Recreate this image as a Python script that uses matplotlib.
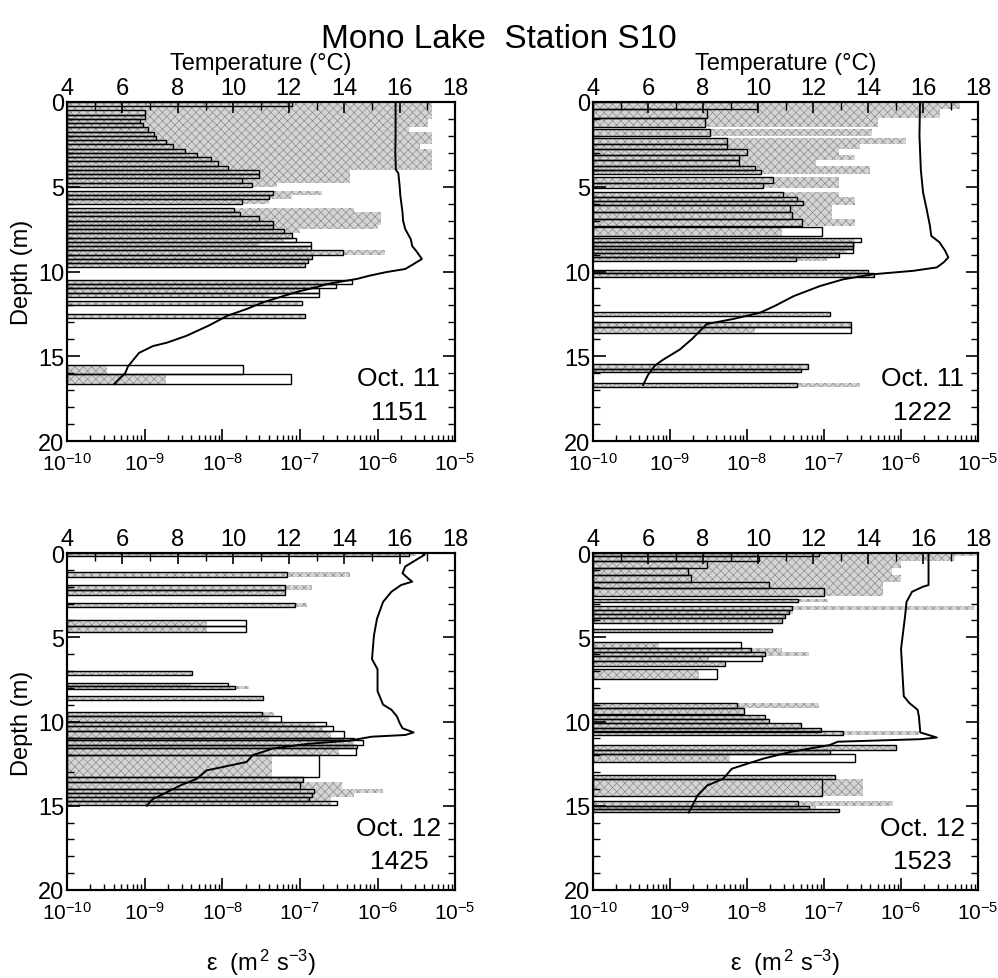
import numpy as np
import matplotlib
matplotlib.use("Agg")
import matplotlib.pyplot as plt
from matplotlib.ticker import FixedLocator, NullFormatter, FuncFormatter

plt.rcParams['font.family'] = ['Liberation Sans', 'DejaVu Sans']
plt.rcParams['mathtext.fontset'] = 'custom'
plt.rcParams['mathtext.rm'] = 'Liberation Sans'
plt.rcParams['mathtext.it'] = 'Liberation Sans'
plt.rcParams['mathtext.default'] = 'regular'
plt.rcParams['hatch.linewidth'] = 0.5

nan = np.nan

# ---- Oct. 11, 1151 ----
tl_depth = [0.0, 0.25, 0.5, 0.75, 1.0, 1.25, 1.5, 1.75, 2.0, 2.25, 2.5, 2.75, 3.0, 3.25, 3.5, 3.75,
            4.0, 4.25, 4.5, 4.75, 5.25, 5.5, 5.75, 6.25, 6.5, 6.75, 7.0, 7.25, 7.5, 7.75, 8.0, 8.25,
            8.5, 8.75, 9.0, 9.25, 9.5, 10.5, 10.75, 11.0, 11.25, 11.75, 12.5, 15.5, 16.05]
tl_thick = [0.25] * 43 + [0.55, 0.6]
tl_outline = [-7.1, nan, -9.0, -9.0, -9.06, -9.02, -8.95, -8.88, -8.85, -8.72, -8.63, -8.48, -8.33, -8.15, -8.06, -7.93,
              -7.53, -7.53, -7.75, -7.62, -7.34, -7.4, -7.75, -7.85, -7.77, -7.53, -7.34, -7.34, -7.21, -7.1, -7.05, -6.86,
              -6.86, -6.44, -6.84, -6.9, -6.93, -6.33, -6.53, -6.76, -6.76, -6.97, -6.93, -7.73, -7.11]
tl_gray = [-5.3, -5.3, -5.3, -5.3, -5.35, -5.35, -5.6, -5.3, -5.3, -5.3, -5.45, -5.3, -5.3, -5.3, -5.3, -5.3,
           -6.35, -6.35, -6.35, -7.3, -6.71, -7.1, -7.4, -6.3, -5.96, -5.96, -5.96, -6.0, -7.0, -7.1, -7.2, -7.53,
           -6.9, -5.9, -6.84, -6.9, -6.93, -6.5, -6.8, -7.0, -7.4, -7.0, -6.93, -9.49, -8.72]
tl_tdepth = [0, 1, 2, 3, 4.0, 4.2, 5.0, 5.5, 6.5, 7.0, 7.5, 8.1, 8.5, 8.8, 9.26, 9.56, 9.85, 10.04, 10.25, 10.44,
             10.7, 11.0, 11.2, 11.5, 11.8, 12.2, 12.6, 13.2, 13.8, 14.2, 14.4, 14.8, 15.2, 15.6, 16.0, 16.3, 16.65]
tl_temp = [15.85, 15.85, 15.85, 15.84, 15.86, 15.95, 16.0, 16.02, 16.1, 16.12, 16.2, 16.4, 16.45, 16.6, 16.8, 16.5, 16.2, 15.5, 14.9, 14.45,
           13.5, 12.8, 12.3, 11.7, 11.1, 10.5, 9.8, 9.1, 8.3, 7.6, 7.1, 6.6, 6.4, 6.2, 6.1, 5.9, 5.7]

# ---- Oct. 11, 1222 ----
tr_depth = [0.0, 0.4, 0.95, 1.6, 2.15, 2.5, 2.8, 3.15, 3.45, 3.75, 4.0, 4.4, 4.75, 5.3, 5.6, 5.85, 6.1, 6.5, 6.9, 7.35,
            8.0, 8.25, 8.5, 8.7, 8.9, 9.15, 9.9, 10.1, 12.4, 13.0, 13.3, 15.45, 15.75, 16.6]
tr_thick = [0.4, 0.55, 0.55, 0.4, 0.35, 0.3, 0.35, 0.3, 0.3, 0.25, 0.25, 0.35, 0.35, 0.3, 0.25, 0.25, 0.4, 0.4, 0.4, 0.55,
            0.25, 0.25, 0.2, 0.2, 0.25, 0.25, 0.2, 0.2, 0.2, 0.3, 0.3, 0.3, 0.15, 0.2]
tr_outline = [-7.87, -8.52, -8.54, -8.48, -8.26, -8.26, -8.0, -8.1, -8.1, -7.9, -7.82, -7.66, -7.79, -7.53, -7.35, -7.27, -7.44, -7.42, -7.29, -7.02,
              -6.52, -6.63, -6.63, -6.63, -6.8, -7.36, -6.43, -6.35, -6.92, -6.65, -6.65, -7.21, -7.3, -7.35]
tr_gray = [-5.23, -5.5, -6.3, -6.38, -5.93, -6.53, -6.8, -6.6, -7.1, -6.4, -6.4, -6.8, -6.8, -6.8, -6.6, -6.6, -6.9, -6.9, -6.6, -7.55,
           -6.6, -6.6, -6.6, -6.7, -6.8, -6.96, -6.43, -6.35, -6.92, -6.65, -7.9, -7.2, -7.3, -6.53]
tr_tdepth = [0, 2, 4, 5.33, 6.31, 7.3, 7.9, 8.28, 8.77, 9.17, 9.46, 9.76, 9.96, 10.16, 10.46, 10.86, 11.45, 12.04, 12.43, 12.8,
             13.1, 13.4, 13.98, 14.6, 15.2, 15.55, 16.1, 16.7]
tr_temp = [15.89, 15.87, 15.92, 16.0, 16.13, 16.25, 16.3, 16.6, 16.8, 16.92, 16.75, 16.5, 15.64, 14.2, 13.1, 12.25, 11.3, 10.6, 10.07, 9.1,
           8.13, 7.95, 7.6, 7.16, 6.55, 6.25, 6.0, 5.82]

# ---- Oct. 12, 1425 ----
bl_depth = [0.0, 1.15, 1.9, 2.17, 2.97, 4.0, 4.33, 7.0, 7.7, 7.9, 8.5, 9.45, 9.7, 10.0, 10.27, 10.55, 10.95, 11.1, 11.4, 11.6,
            12.0, 13.3, 13.6, 14.0, 14.25, 14.5, 14.7]
bl_thick = [0.2, 0.3, 0.27, 0.3, 0.23, 0.33, 0.34, 0.24, 0.2, 0.2, 0.2, 0.25, 0.3, 0.27, 0.28, 0.4, 0.15, 0.3, 0.2, 0.4,
            1.3, 0.3, 0.4, 0.25, 0.25, 0.2, 0.25]
bl_outline = [-5.6, -7.17, -7.19, -7.19, -7.06, -7.7, -7.7, -8.39, -7.92, -7.83, -7.47, -7.49, -7.24, -6.66, -6.57, -6.43, -6.3, -6.19, -6.26, -6.28,
              -6.75, -6.96, -7.0, -6.82, -6.85, -6.88, -6.52]
bl_gray = [-5.5, -6.35, -6.84, -7.19, -6.91, -8.2, -8.2, -8.39, -8.4, -7.65, -7.47, -7.33, -7.4, -6.8, -6.7, -6.6, -6.4, -6.3, -6.3, -6.5,
           -7.36, -6.96, -6.46, -5.93, -6.3, -6.6, -6.6]
bl_tdepth = [0, 0.1, 0.4, 0.8, 1.2, 1.5, 1.7, 1.9, 2.3, 2.9, 3.9, 4.9, 6.3, 6.9, 8.2, 9.0, 9.3, 9.7, 10.1, 10.4,
             10.65, 10.8, 10.9, 11.14, 11.33, 11.6, 12.0, 12.4, 12.9, 13.4, 13.8, 14.2, 14.6, 15.0]
bl_temp = [16.8, 16.9, 16.6, 16.2, 16.1, 16.3, 16.45, 16.05, 15.7, 15.4, 15.18, 15.07, 15.0, 15.2, 15.2, 15.4, 15.7, 15.9, 16.0, 16.1,
           16.5, 16.2, 15.0, 14.16, 12.66, 11.43, 10.7, 10.48, 9.04, 8.68, 8.08, 7.6, 7.1, 6.88]

# ---- Oct. 12, 1523 ----
br_depth = [0.0, 0.15, 0.45, 0.9, 1.3, 1.74, 2.1, 2.7, 3.17, 3.36, 3.6, 3.88, 4.5, 5.3, 5.65, 5.9, 6.13, 6.4, 6.9, 8.9,
            9.2, 9.6, 9.85, 10.1, 10.4, 10.55, 11.4, 11.7, 11.9, 13.2, 13.4, 14.7, 15.0, 15.2]
br_thick = [0.15, 0.3, 0.45, 0.4, 0.4, 0.36, 0.43, 0.2, 0.19, 0.24, 0.28, 0.27, 0.2, 0.35, 0.25, 0.23, 0.27, 0.3, 0.6, 0.3,
            0.35, 0.25, 0.25, 0.3, 0.2, 0.25, 0.3, 0.2, 0.5, 0.2, 1.0, 0.3, 0.2, 0.2]
br_outline = [-7.07, -7.84, -8.52, -8.76, -8.73, -7.72, -7.0, -7.34, -7.42, -7.45, -7.51, -7.55, -7.67, -8.08, -7.95, -7.77, -7.8, -8.29, -8.39, -8.13,
              -8.04, -7.77, -7.72, -7.3, -7.04, -6.76, -6.06, -6.92, -6.6, -6.86, -7.03, -7.34, -7.19, -6.8]
br_gray = [-5.0, -5.3, -6.0, -6.12, -6.0, -6.23, -6.23, -6.95, -5.05, -7.4, -7.51, -7.55, -7.67, -9.14, -7.55, -7.19, -8.5, -8.29, -8.63, -7.07,
           -8.04, -7.77, -7.72, -7.3, -7.04, -5.77, -6.06, -6.92, -8.22, -6.86, -6.5, -6.1, -7.1, -6.8]
br_tdepth = [0, 1.9, 2.0, 2.3, 2.9, 3.7, 5.7, 8.5, 8.9, 9.3, 9.7, 10.65, 10.95, 11.05, 11.2, 11.4, 11.8, 12.2, 12.8, 13.4,
             13.8, 14.4, 15.4]
br_temp = [16.2, 16.2, 16.0, 15.6, 15.4, 15.35, 15.2, 15.3, 15.5, 15.8, 15.85, 15.9, 16.5, 15.9, 12.9, 12.6, 11.2, 10.2, 9.05, 8.73,
           8.15, 7.8, 7.48]

panel_dates = ["Oct. 11", "Oct. 11", "Oct. 12", "Oct. 12"]
panel_times = ["1151", "1222", "1425", "1523"]

EPS_MIN, EPS_MAX = 1e-10, 1e-5
FS = 17
FS_LOG = 15

decades = np.arange(-10, -4)
eps_major = 10.0 ** decades
eps_minor = np.array([m * 10.0 ** d for d in decades[:-1] for m in range(2, 10)])

fig = plt.figure(figsize=(9.98, 9.79), dpi=100)
positions = [
    [0.0671, 0.5485, 0.389, 0.3463],
    [0.5942, 0.5485, 0.3858, 0.3463],
    [0.0671, 0.0899, 0.389, 0.3442],
    [0.5942, 0.0899, 0.3858, 0.3442],
]
panels = [
    (tl_depth, tl_thick, tl_outline, tl_gray, tl_tdepth, tl_temp),
    (tr_depth, tr_thick, tr_outline, tr_gray, tr_tdepth, tr_temp),
    (bl_depth, bl_thick, bl_outline, bl_gray, bl_tdepth, bl_temp),
    (br_depth, br_thick, br_outline, br_gray, br_tdepth, br_temp),
]


def sci_label(v, pos):
    e = int(round(np.log10(v)))
    return r"$10^{-%d}$" % (-e) if e < 0 else r"$10^{%d}$" % e


for i, (pos, data) in enumerate(zip(positions, panels)):
    depth, thick, outline, gray, tdepth, temp = data
    depth = np.asarray(depth, float)
    thick = np.asarray(thick, float)
    centers = depth + thick / 2
    eps_o = 10.0 ** np.asarray(outline, float)
    eps_g = 10.0 ** np.asarray(gray, float)

    ax = fig.add_axes(pos)
    ax.set_xscale('log')
    ax.set_xlim(EPS_MIN, EPS_MAX)
    ax.set_ylim(20, 0)

    # stippled grey bars
    mg = ~np.isnan(eps_g)
    ax.barh(centers[mg], eps_g[mg] - EPS_MIN, left=EPS_MIN, height=thick[mg],
            facecolor='#d4d4d4', edgecolor='#8c8c8c', hatch='xxxx', linewidth=0, zorder=1)
    # open outlined bars
    mo = ~np.isnan(eps_o)
    ax.barh(centers[mo], eps_o[mo] - EPS_MIN, left=EPS_MIN, height=thick[mo],
            facecolor='none', edgecolor='black', linewidth=1.0, zorder=2)

    ax.xaxis.set_major_locator(FixedLocator(eps_major))
    ax.xaxis.set_minor_locator(FixedLocator(eps_minor))
    ax.xaxis.set_major_formatter(FuncFormatter(sci_label))
    ax.xaxis.set_minor_formatter(NullFormatter())
    ax.yaxis.set_major_locator(FixedLocator([0, 5, 10, 15, 20]))
    ax.yaxis.set_minor_locator(FixedLocator(np.arange(0, 21, 1)))
    ax.tick_params(axis='both', which='both', direction='in')
    ax.tick_params(axis='x', which='major', length=9, width=1.2, pad=8, labelsize=FS_LOG)
    ax.tick_params(axis='x', which='minor', length=4, width=1.0)
    ax.tick_params(axis='y', which='major', length=9, width=1.2, right=True, pad=2, labelsize=FS)
    ax.tick_params(axis='y', which='minor', length=5, width=1.0, right=True)
    for sp in ax.spines.values():
        sp.set_linewidth(1.5)

    tx = ax.twiny()
    tx.set_xlim(4, 18)
    tx.plot(temp, tdepth, color='black', linewidth=1.4, zorder=5)
    tx.xaxis.set_major_locator(FixedLocator(np.arange(4, 19, 2)))
    tx.xaxis.set_minor_locator(FixedLocator(np.arange(4, 19, 1)))
    tx.tick_params(axis='x', which='both', direction='in', labelsize=FS, pad=2)
    tx.tick_params(axis='x', which='major', length=8, width=1.2)
    tx.tick_params(axis='x', which='minor', length=6, width=1.0)
    for sp in tx.spines.values():
        sp.set_linewidth(1.5)

    ax.text(0.855, 0.185, panel_dates[i], transform=ax.transAxes, ha='center', va='center', fontsize=19)
    ax.text(0.855, 0.086, panel_times[i], transform=ax.transAxes, ha='center', va='center', fontsize=19)

fig.text(0.5, 0.960, "Mono Lake  Station S10", ha='center', va='center', fontsize=24)
for xc in (0.2615, 0.787):
    fig.text(xc, 0.935, "Temperature (\u00b0C)", ha='center', va='center', fontsize=FS)
    fig.text(xc, 0.016, "\u03b5  (m$^{\\,2}$ s$^{-3}$)", ha='center', va='center', fontsize=FS)
for yc in (0.722, 0.2615):
    fig.text(0.022, yc, "Depth (m)", ha='center', va='center', rotation=90, fontsize=FS)

fig.savefig("out.png", dpi=100)
